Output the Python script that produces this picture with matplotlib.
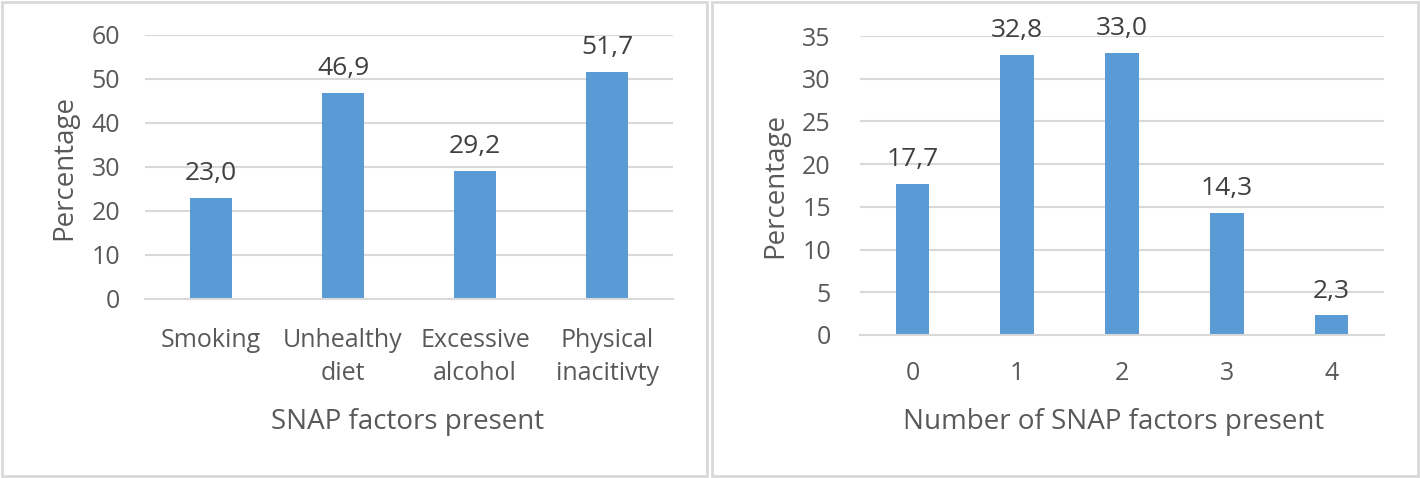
import matplotlib.pyplot as plt
from matplotlib.patches import Rectangle

plt.rcParams["font.family"] = ["Open Sans", "DejaVu Sans"]

factors = ["Smoking", "Unhealthy\ndiet", "Excessive\nalcohol", "Physical\ninacitivty"]
factor_pct = [23.0, 46.9, 29.2, 51.7]

counts = ["0", "1", "2", "3", "4"]
count_pct = [17.7, 32.8, 33.0, 14.3, 2.3]

BAR = "#5B9BD5"
GRID = "#D9D9D9"
TICK = "#595959"
VAL = "#404040"

W, H = 1420, 478
fig = plt.figure(figsize=(W / 100, H / 100), dpi=100)

# panel frames (pixel coords -> figure fraction)
for x0, x1 in [(2, 707), (712, 1418)]:
    fig.patches.append(Rectangle((x0 / W, 2 / H), (x1 - x0) / W, (H - 4) / H,
                                 transform=fig.transFigure, fill=False,
                                 edgecolor=GRID, linewidth=2))


def panel(px, cats, vals, ymax, step, xlabel, ypad, xpad, ylab_x, xlab_x):
    left, top, right, bottom = px
    ax = fig.add_axes([left / W, 1 - bottom / H, (right - left) / W, (bottom - top) / H])
    x = range(len(cats))
    bars = ax.bar(x, vals, width=0.32, color=BAR, zorder=2)
    for b, v in zip(bars, vals):
        ax.annotate(f"{v:.1f}".replace(".", ","), (b.get_x() + b.get_width() / 2, v),
                    xytext=(0, 8.5), textcoords="offset points",
                    ha="center", va="bottom", fontsize=19, color=VAL)
    ax.set_xlim(-0.5, len(cats) - 0.5)
    ax.set_ylim(0, ymax)
    ax.set_yticks(range(0, ymax + 1, step))
    ax.set_xticks(list(x))
    ax.set_xticklabels(cats, linespacing=1.42)
    ax.yaxis.grid(True, color=GRID, linewidth=1.5, zorder=0)
    ax.set_axisbelow(True)
    for s in ["top", "right", "left"]:
        ax.spines[s].set_visible(False)
    ax.spines["bottom"].set_color(GRID)
    ax.spines["bottom"].set_linewidth(1.5)
    ax.tick_params(axis="both", length=0, labelsize=18, colors=TICK)
    ax.tick_params(axis="y", pad=ypad)
    ax.tick_params(axis="x", pad=xpad)
    ax.set_ylabel("Percentage", fontsize=20, color=TICK, va="center")
    ax.set_xlabel(xlabel, fontsize=20, color=TICK, va="center")
    ax.yaxis.set_label_coords(ylab_x / W, 1 - (top + bottom) / 2 / H, transform=fig.transFigure)
    ax.xaxis.set_label_coords(xlab_x / W, 1 - 422 / H, transform=fig.transFigure)
    return ax


ax1 = panel((145, 35, 673, 299), factors, factor_pct, 60, 10,
            "SNAP factors present", 18, 21, 64, 408)
ax2 = panel((860, 36, 1384, 335), counts, count_pct, 35, 5,
            "Number of SNAP factors present", 21, 18.5, 775, 1114)

fig.savefig("out.png", dpi=100)
